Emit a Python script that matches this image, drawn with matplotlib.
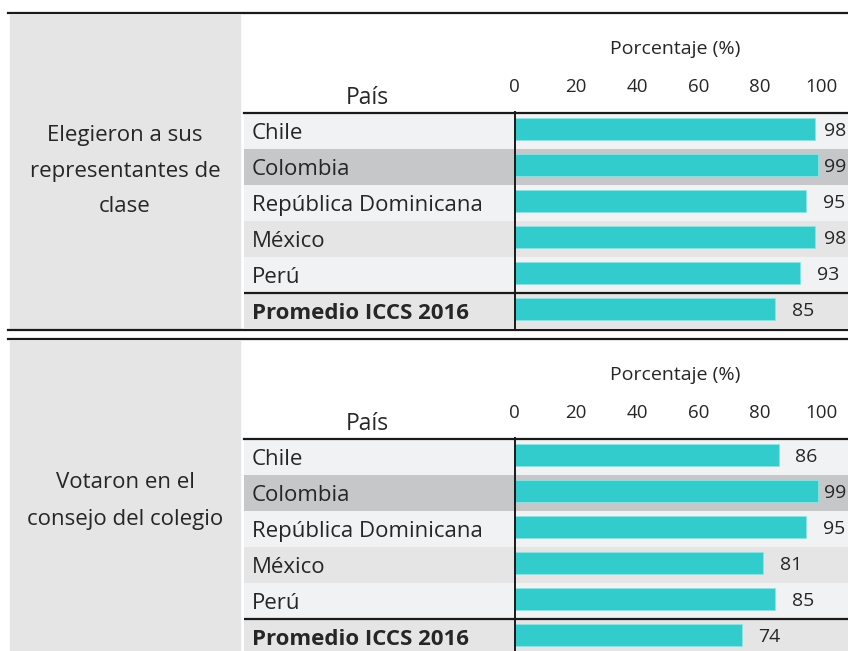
import numpy as np
import matplotlib
matplotlib.use("Agg")
import matplotlib.pyplot as plt
from matplotlib.patches import Rectangle

paises = ["Chile", "Colombia", "República Dominicana", "México", "Perú",
          "Promedio ICCS 2016"]
representantes = [98, 99, 95, 98, 93, 85]
consejo = [86, 99, 95, 81, 85, 74]
ticks = [0, 20, 40, 60, 80, 100]

paneles = [
    (["Elegieron a sus", "representantes de", "clase"], representantes),
    (["Votaron en el", "consejo del colegio"], consejo),
]

plt.rcParams['font.family'] = ['Open Sans', 'DejaVu Sans']

W, H = 848, 651
TXT = '#262626'
LINEA = '#1a1a1a'
TEAL = '#33CCCC'
fondos = ['#F1F2F4', '#C6C7C9', '#F1F2F4', '#E5E5E5', '#F1F2F4', '#E5E5E5']

fig = plt.figure(figsize=(W / 100, H / 100), dpi=100)

# fondo en coordenadas de pixel
bg = fig.add_axes([0, 0, 1, 1])
bg.set_xlim(0, W)
bg.set_ylim(H, 0)
bg.axis('off')

fila = 36
x0 = 514.5
esc = 3.07
izq = 244

for p, (titulo, valores) in enumerate(paneles):
    t = 326 * p
    arriba = 13 + t
    cab = 113 + t
    abajo = cab + 6 * fila

    # panel gris de la izquierda
    bg.add_patch(Rectangle((10, arriba + 2), 230, abajo - arriba - 3,
                           color='#E5E5E5', zorder=0))
    # lineas horizontales gruesas
    bg.plot([8, 242.5], [arriba, arriba], color=LINEA, lw=1.6, zorder=3)
    bg.plot([244.5, W], [arriba, arriba], color=LINEA, lw=1.6, zorder=3)
    if p == 0:
        bg.plot([8, 242.5], [abajo + 1, abajo + 1], color=LINEA, lw=1.6,
                zorder=3)
        bg.plot([244.5, W], [abajo + 1, abajo + 1], color=LINEA, lw=1.6,
                zorder=3)

    # texto del panel izquierdo
    yc = (arriba + abajo) / 2 + (0 if p == 0 else 4)
    n = len(titulo)
    for k, linea in enumerate(titulo):
        bg.text(125, yc + (k - (n - 1) / 2) * fila, linea, ha='center',
                va='center', fontsize=16, color=TXT)

    bg.text(675, 54 + t, "Porcentaje (%)", ha='center', va='baseline',
            fontsize=14, color=TXT)
    bg.text(367, 98 + t, "País", ha='center', va='center', fontsize=16.5,
            color=TXT)

    # tabla de barras
    ax = fig.add_axes([izq / W, 1 - abajo / H, (W - izq) / W, 6 * fila / H])
    ax.set_xlim((izq - x0) / esc, (W - x0) / esc)
    ax.set_ylim(5.5, -0.5)
    ax.patch.set_alpha(0)
    for s in ax.spines.values():
        s.set_visible(False)

    y = np.arange(len(paises))
    for i in y:
        ax.axhspan(i - 0.5, i + 0.5, color=fondos[i], zorder=0, lw=0)
    ax.barh(y - 0.05, valores, height=0.61, color=TEAL,
            edgecolor='#8FE3E3', linewidth=0.6, zorder=2)

    ax.axvline(0, ymin=0.005, ymax=1.005, color=LINEA, lw=1.4, zorder=3,
               clip_on=False)
    ax.axhline(-0.5, color=LINEA, lw=1.6, zorder=3, clip_on=False)
    ax.axhline(4.5, color=LINEA, lw=1.6, zorder=3)

    for i, (nombre, v) in enumerate(zip(paises, valores)):
        negrita = i == len(paises) - 1
        ax.text((252 - x0) / esc, i + 0.06, nombre, ha='left', va='center',
                fontsize=16, color=TXT,
                fontweight='bold' if negrita else 'normal')
        ax.text(min(v + 28 / esc, (835 - x0) / esc), i, str(v),
                ha='center', va='center', fontsize=14, color=TXT)

    ax.set_xticks(ticks)
    ax.set_xticklabels([str(v) for v in ticks])
    ax.xaxis.set_ticks_position('top')
    ax.tick_params(axis='x', length=0, pad=12, labelsize=13.5, colors=TXT)
    ax.set_yticks([])

fig.savefig('out.png', dpi=100)
